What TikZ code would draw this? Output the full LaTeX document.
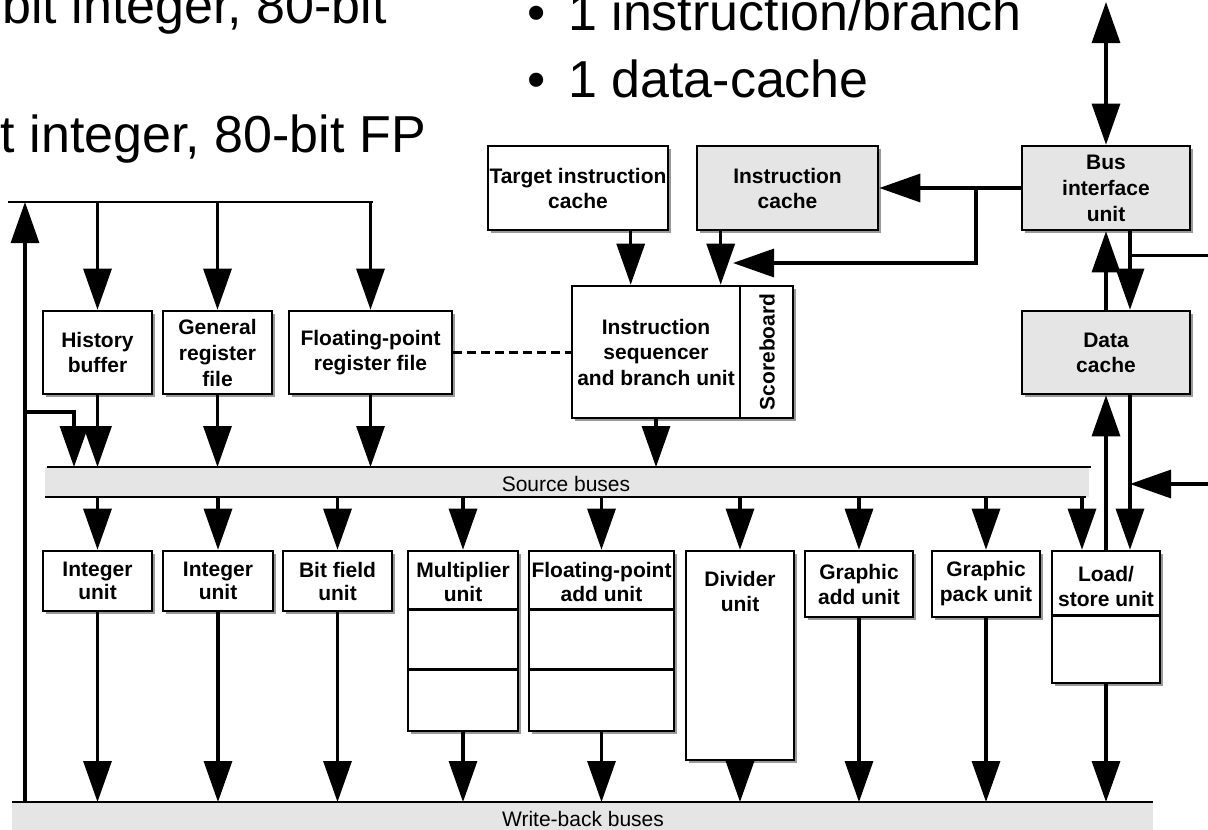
\documentclass[tikz,border=0pt]{standalone}
\usepackage{fontspec}
\setmainfont{Liberation Sans}
\usetikzlibrary{arrows.meta,shadows,calc}

\begin{document}
\begin{tikzpicture}[x=1pt,y=-1pt,
  box/.style={draw,line width=2.6pt,fill=white,inner sep=0pt,align=center,
     font=\bfseries\fontsize{21}{25}\selectfont,
     drop shadow={shadow xshift=3pt,shadow yshift=-3pt,fill=black!40,opacity=1}},
  graybox/.style={box,fill=black!10},
  lbl/.style={inner sep=0pt,align=center,font=\bfseries\fontsize{21}{23.5}\selectfont},
  arr/.style={line width=3.2pt,-{Triangle[length=41pt,width=28pt]}},
  arrboth/.style={line width=3.2pt,{Triangle[length=41pt,width=28pt]}-{Triangle[length=41pt,width=28pt]}},
  wire/.style={line width=3.2pt},
  busline/.style={line width=2pt},
  busfill/.style={fill=black!10,draw=none,inner sep=0pt,outer sep=0pt},
  bustext/.style={inner sep=0pt,font=\fontsize{21}{25}\selectfont},
  big/.style={inner sep=0pt,font=\fontsize{52}{60}\selectfont},
]
\useasboundingbox (0,0) rectangle (1208,830);

% slide text
\node[big,anchor=base east] (t1) at (387,23) {bit integer, 80-bit};
\node[big,anchor=base east] (t2) at (426,152) {t integer, 80-bit FP};
\node[big,anchor=base west] (bul1) at (527,30) {•};
\node[big,anchor=base west] (b1) at (568,30) {1 instruction/branch};
\node[big,anchor=base west] (bul2) at (527,97) {•};
\node[big,anchor=base west] (b2) at (568,97) {1 data-cache};

% buses
\node[inner sep=0pt,outer sep=0pt,minimum width=365pt,minimum height=0pt] (topbus) at (190.5,202) {};
\draw[busline] (topbus.west) -- (topbus.east);
\node[busfill,minimum width=1044pt,minimum height=30pt] (srcbus) at (567,482) {};
\draw[busline] (47,467) -- (1091,467);
\draw[busline] (45,497) -- (1086,497);
\node[bustext,anchor=base] (srclbl) at (566,491) {Source buses};
\node[busfill,minimum width=1141pt,minimum height=30pt] (wbbus) at (582.5,817) {};
\draw[busline] (wbbus.north west) -- (wbbus.north east);
\node[bustext,anchor=base] (wblbl) at (583,826) {Write-back buses};

% register files
\node[box,minimum width=109pt,minimum height=83pt] (hist) at (97.5,352.5) {History\\buffer};
\node[box,minimum width=109pt,minimum height=83pt,font=\bfseries\fontsize{21}{26}\selectfont] (genreg) at (217.5,352.5) {General\\register\\file};
\node[box,minimum width=163pt,minimum height=83pt] (fpreg) at (370.5,352.5) {Floating-point\\register file};

% fetch side
\node[box,minimum width=180pt,minimum height=84pt] (tic) at (578,188) {Target instruction\\cache};
\node[graybox,minimum width=181pt,minimum height=84pt] (icache) at (787.5,188) {Instruction\\cache};
\node[graybox,minimum width=168pt,minimum height=84pt,font=\bfseries\fontsize{21}{26}\selectfont] (biu) at (1106,188) {Bus\\interface\\unit};
\node[box,minimum width=168pt,minimum height=132pt,font=\bfseries\fontsize{21}{25.5}\selectfont] (seq) at (656,352) {Instruction\\sequencer\\and branch unit};
\node[box,minimum width=53pt,minimum height=132pt] (score) at (766.5,352) {};
\node[lbl,rotate=90] (scorelbl) at (767,352) {Scoreboard};
\node[graybox,minimum width=168pt,minimum height=83pt] (dcache) at (1106,352.5) {Data\\cache};

% execution units
\node[box,minimum width=109pt,minimum height=60pt,font=\bfseries\fontsize{21}{23}\selectfont] (int1) at (97.5,581) {Integer\\unit};
\node[box,minimum width=110pt,minimum height=60pt,font=\bfseries\fontsize{21}{23}\selectfont] (int2) at (218,581) {Integer\\unit};
\node[box,minimum width=109pt,minimum height=60pt,font=\bfseries\fontsize{21}{23}\selectfont] (bitf) at (337.5,581) {Bit field\\unit};
\node[box,minimum width=110pt,minimum height=180pt] (mul) at (463,641) {};
\node[lbl] (mullbl) at (463,582) {Multiplier\\unit};
\node[box,minimum width=145pt,minimum height=180pt] (fpadd) at (601.5,641) {};
\node[lbl] (fpaddlbl) at (601.5,582) {Floating-point\\add unit};
\node[box,minimum width=108pt,minimum height=209pt] (div) at (740,655.5) {};
\node[lbl,font=\bfseries\fontsize{21}{25}\selectfont] (divlbl) at (740,591) {Divider\\unit};
\node[box,minimum width=108pt,minimum height=66pt] (gadd) at (859,584) {Graphic\\add unit};
\node[box,minimum width=108pt,minimum height=66pt] (gpack) at (986,584) {Graphic\\pack unit};
\node[box,minimum width=108pt,minimum height=132pt] (ls) at (1106,617) {};
\node[lbl,font=\bfseries\fontsize{21}{25}\selectfont] (lslbl) at (1106,586) {Load/\\store unit};

% pipeline stage dividers
\draw[line width=2.6pt] ($(mul.north west)+(0,60)$) -- ($(mul.north east)+(0,60)$);
\draw[line width=2.6pt] ($(mul.north west)+(0,120)$) -- ($(mul.north east)+(0,120)$);
\draw[line width=2.6pt] ($(fpadd.north west)+(0,60)$) -- ($(fpadd.north east)+(0,60)$);
\draw[line width=2.6pt] ($(fpadd.north west)+(0,120)$) -- ($(fpadd.north east)+(0,120)$);
\draw[line width=2.6pt] ($(ls.north west)+(0,66)$) -- ($(ls.north east)+(0,66)$);

% write-back feedback to the register files
\coordinate (fb) at (25,0);
\coordinate (hb) at (74,412);
\draw[arr] (fb |- wbbus.north) -- (fb |- topbus.center);
\draw[arr] (fb |- hb) -- (hb) -- (hb |- srcbus.north);
\foreach \n in {hist,genreg,fpreg}{
  \draw[arr] (\n.north |- topbus.center) -- (\n.north);
  \draw[arr] (\n.south) -- (\n.south |- srcbus.north);
}
\draw[line width=3pt,dash pattern=on 9pt off 5pt] (fpreg.east) -- (fpreg.east -| seq.west);

% fetch paths
\coordinate (tx) at ($(tic.south west)+(144,0)$);
\coordinate (ix) at ($(icache.south west)+(25,0)$);
\draw[arr] (tx) -- (tx |- seq.north);
\draw[arr] (ix) -- (ix |- seq.north);
\coordinate (ij) at (976,188);
\coordinate (ik) at (733,263);
\draw[arr] (biu.west) -- (icache.east);
\draw[arr] (ij) -- (ij |- ik) -- (ik);
\draw[arr] (seq.south) -- (seq.south |- srcbus.north);

% memory side
\coordinate (top) at (1106,2);
\draw[arrboth] (top) -- (biu.north);
\coordinate (bd) at ($(biu.south)+(24,0)$);
\coordinate (dd) at ($(dcache.south)+(24,0)$);
\coordinate (lu) at ($(ls.north)+(-24,0)$);
\draw[arr] (dcache.north) -- (biu.south);
\draw[arr] (bd) -- (bd |- dcache.north);
\coordinate (e1) at (1210,255);
\draw[wire,line width=3pt] (e1) -- (bd |- e1);
\draw[arr] (ls.north) -- (dcache.south);
\draw[arr] (dd) -- (dd |- ls.north);
\coordinate (e2) at (1210,484);
\draw[arr] (e2) -- (dd |- e2);

% issue from the source buses
\foreach \n in {int1,int2,bitf,mul,fpadd,div,gadd,gpack}{
  \draw[arr] (\n.north |- srcbus.south) -- (\n.north);
  \draw[arr] (\n.south) -- (\n.south |- wbbus.north);
}
\draw[arr] (lu |- srcbus.south) -- (lu);
\draw[arr] (ls.south) -- (ls.south |- wbbus.north);
\end{tikzpicture}
\end{document}
